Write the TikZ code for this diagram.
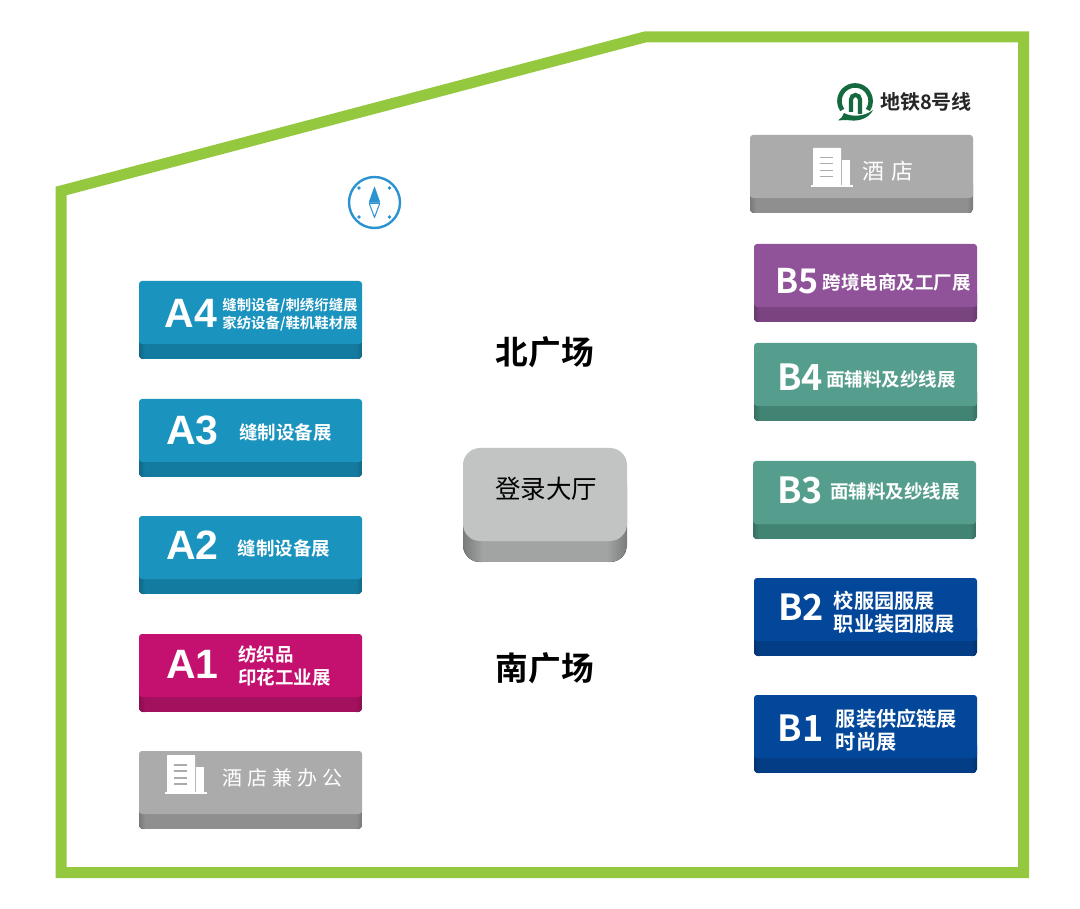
\documentclass[tikz,border=0pt]{standalone}
\usepackage{fontspec}
\setmainfont{Noto Sans CJK SC}
\newfontfamily\cjkbold{Noto Sans CJK SC Bold}
\newfontfamily\latb{Liberation Sans Bold}
\definecolor{framegreen}{HTML}{94C83F}
\definecolor{ablue}{HTML}{1A93BE}\definecolor{abluedk}{HTML}{137BA0}
\definecolor{amag}{HTML}{C4116F}\definecolor{amagdk}{HTML}{A3105E}
\definecolor{hgray}{HTML}{ABABAB}\definecolor{hgraydk}{HTML}{8F8F8F}
\definecolor{bpur}{HTML}{90539A}\definecolor{bpurdk}{HTML}{7A4480}
\definecolor{bgrn}{HTML}{559E8D}\definecolor{bgrndk}{HTML}{418473}
\definecolor{bnavy}{HTML}{03479B}\definecolor{bnavydk}{HTML}{023D85}
\definecolor{lobby}{HTML}{C2C4C3}\definecolor{lobbydk}{HTML}{A2A4A4}
\definecolor{compass}{HTML}{2A93D0}
\definecolor{metro}{HTML}{14693F}
\tikzset{
  x=1pt,y=-1pt,
  code/.style={font=\fontsize{41}{41}\selectfont\latb,text=white,inner sep=0pt},
  codeb/.style={font=\fontsize{36}{36}\selectfont\cjkbold,text=white,inner sep=0pt},
  sub/.style={font=\fontsize{18.5}{23}\selectfont\cjkbold,text=white,inner sep=0pt,align=left},
  subwide/.style={font=\fontsize{20.2}{23}\selectfont\cjkbold,text=white,inner sep=0pt,align=left},
  subsmall/.style={font=\fontsize{14.4}{18}\selectfont\cjkbold,text=white,inner sep=0pt,align=left},
  hotel/.style={font=\fontsize{20}{20}\selectfont,text=white,inner sep=0pt},
  plaza/.style={font=\fontsize{32.7}{32.7}\selectfont\cjkbold,text=black,inner sep=0pt},
}
% #1 name, #2 x, #3 y, #4 top colour, #5 side colour
\newcommand{\hallbox}[5]{%
  \begin{scope}
  \clip[rounded corners=4pt] (#2,#3) rectangle ++(223,78);
  \fill[#5] (#2,#3+50) rectangle ++(223,28);
  \fill[left color=#5!85!black,right color=#5] (#2,#3+50) rectangle ++(6,28);
  \fill[left color=#5,right color=#5!85!black] (#2+217,#3+50) rectangle ++(6,28);
  \end{scope}
  \fill[#4,rounded corners=3pt] (#2,#3) rectangle ++(223,63);
  \coordinate (#1) at (#2,#3);
}
% #1 x(left), #2 y(top), #3 background colour
\newcommand{\tower}[3]{%
  \fill[white,rounded corners=.6pt] (#1+2,#2) rectangle ++(28,38);
  \fill[white] (#1+31,#2+12) rectangle ++(8,26);
  \fill[white] (#1,#2+37) rectangle ++(42,2.4);
  \foreach \ky in {9,15,22,28}{\fill[#3] (#1+9,#2+\ky) rectangle ++(13,1.5);}
}
\begin{document}
\begin{tikzpicture}
\useasboundingbox (0,0) rectangle (1080,909);
\fill[white] (0,0) rectangle (1080,909);
\draw[framegreen,line width=11pt,miter limit=10] (61,191) -- (645,37) -- (1023.5,37) -- (1023.5,872.5) -- (61,872.5) -- cycle;

% compass
\draw[compass,line width=2.4pt] (374.5,202.5) circle (25.5);
\fill[compass,line join=round,draw=compass,line width=.5pt] (374.5,187) -- (380,202.5) -- (369,202.5) -- cycle;
\draw[compass,line width=1pt,fill=white,line join=round] (369.3,203.5) -- (379.7,203.5) -- (374.5,217.5) -- cycle;
\fill[compass] (359,188) circle (1.9) (389.5,188) circle (1.9) (359,217) circle (1.9) (389.5,217) circle (1.9);

% metro logo
\draw[metro,line width=4.6pt] (842.3,110) arc[start angle=145,end angle=395,radius=15.6];
\draw[metro,line width=4.2pt] (851,112) -- (851,99.5) arc[start angle=180,end angle=360,radius=4.5] -- (860,114);
\fill[metro] (838,120.5) .. controls (841,119) and (843,116) .. (844,113) .. controls (851,117) and (864,117) .. (873,110) .. controls (869,118) and (860,121) .. (852,120.5) .. controls (847,120) and (843,120) .. (838,120.5) -- cycle;
\node[inner sep=0pt,font=\fontsize{20}{20}\selectfont\cjkbold,text=black!85] (metrolabel) at (926,102) {地铁8号线};

% left column
\hallbox{a4}{139}{281}{ablue}{abluedk}
\node[code] (a4c) at (191,313) {A4};
\node[subsmall] (a4t) at (290,315) {缝制设备/刺绣绗缝展\\家纺设备/鞋机鞋材展};
\hallbox{a3}{139}{399}{ablue}{abluedk}
\node[code] (a3c) at (192.5,430) {A3};
\node[sub] (a3t) at (285.5,432) {缝制设备展};
\hallbox{a2}{139}{516}{ablue}{abluedk}
\node[code] (a2c) at (192.5,545.5) {A2};
\node[sub] (a2t) at (284,548) {缝制设备展};
\hallbox{a1}{139}{634}{amag}{amagdk}
\node[code] (a1c) at (192.5,664) {A1};
\node[sub] (a1t) at (284.5,666) {纺织品\\印花工业展};
\hallbox{ah}{139}{751}{hgray}{hgraydk}
\tower{165}{755}{hgray}
\node[hotel] (aht) at (282,777.5) {酒\hspace{5pt}店\hspace{5pt}兼\hspace{5pt}办\hspace{5pt}公};

% centre
\begin{scope}
\clip[rounded corners=17pt] (463,470) rectangle (627,562);
\fill[lobbydk] (463,470) rectangle (627,562);
\fill[left color=lobbydk!75!black,right color=lobbydk] (463,470) rectangle (483,562);
\fill[left color=lobbydk,right color=lobbydk!75!black] (607,470) rectangle (627,562);
\end{scope}
\fill[lobby,rounded corners=17pt] (463,448) rectangle (627,541);
\node[inner sep=0pt,font=\fontsize{25.5}{25.5}\selectfont,text=black] (lobbyt) at (546,489) {登录大厅};
\node[plaza] (north) at (545,352) {北广场};
\node[plaza] (south) at (545,668) {南广场};

% right column
\hallbox{bh}{750}{135}{hgray}{hgraydk}
\tower{811}{148}{hgray}
\node[hotel,font=\fontsize{22}{22}\selectfont] (bht) at (888,171) {酒\hspace{7pt}店};
\hallbox{b5}{754}{244}{bpur}{bpurdk}
\node[codeb,font=\fontsize{34}{34}\selectfont\cjkbold] (b5c) at (797,281) {B5};
\node[sub] (b5t) at (896.5,282.5) {跨境电商及工厂展};
\hallbox{b4}{754}{343}{bgrn}{bgrndk}
\node[codeb] (b4c) at (800,377) {B4};
\node[sub] (b4t) at (891,379.5) {面辅料及纱线展};
\hallbox{b3}{753}{461}{bgrn}{bgrndk}
\node[codeb] (b3c) at (800,490) {B3};
\node[sub] (b3t) at (895,491.5) {面辅料及纱线展};
\hallbox{b2}{754}{578}{bnavy}{bnavydk}
\node[codeb] (b2c) at (801,607) {B2};
\node[subwide] (b2t) at (894.5,612.5) {校服园服展\\职业装团服展};
\hallbox{b1}{754}{695}{bnavy}{bnavydk}
\node[codeb] (b1c) at (800.5,728) {B1};
\node[subwide] (b1t) at (896.5,730.5) {服装供应链展\\时尚展};
\end{tikzpicture}
\end{document}
